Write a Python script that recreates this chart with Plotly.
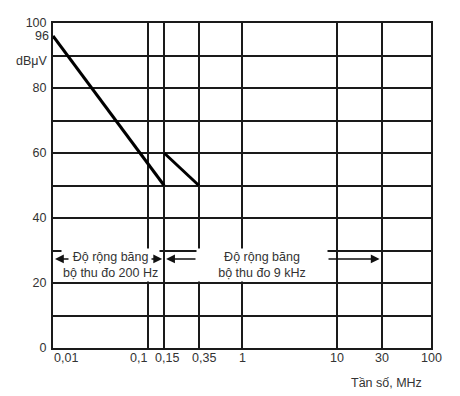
import numpy as np
import plotly.graph_objects as go

# ---- data ----
freq_seg1 = [0.01, 0.15]
level_seg1 = [96, 50]
freq_seg2 = [0.15, 0.35]
level_seg2 = [60, 50]

x_ticks = [0.01, 0.1, 0.15, 0.35, 1, 10, 30, 100]
x_tick_labels = ["0,01", "0,1", "0,15", "0,35", "1", "10", "30", "100"]
y_grid = [0, 10, 20, 30, 40, 50, 60, 70, 80, 90, 100]
y_tick_labels = ["0", "", "20", "", "40", "", "60", "", "80", "", "100"]
extra_y_tick = 96
y_unit = "dBμV"
x_title = "Tần số, MHz"
band_200_range = [0.01, 0.15]
band_9k_range = [0.15, 30]
band_200_text = "Độ rộng băng<br>bộ thu đo 200 Hz"
band_9k_text = "Độ rộng băng<br>bộ thu đo 9 kHz"

# ---- layout geometry (page has an 8px body margin) ----
OFF = 8
W, H = 460 - OFF, 396 - OFF
ML, MT = 53 - OFF, 23 - OFF
PW, PH = 378, 325
MR = W - ML - PW
MB = H - MT - PH
FONT = "Liberation Sans, Arial, sans-serif"
TXT = "#333333"
GRID = "#1a1a1a"


# page-pixel helpers
def px_to_logx(px):
    return -2 + 4 * (px - 53) / PW


def px_to_paper_x(px):
    return (px - 53) / PW


def px_to_paper_y(py):
    return (348 - py) / PH


fig = go.Figure()
fig.add_trace(go.Scatter(x=freq_seg1, y=level_seg1, mode="lines",
                         line=dict(color="black", width=3), showlegend=False, hoverinfo="skip"))
fig.add_trace(go.Scatter(x=freq_seg2, y=level_seg2, mode="lines",
                         line=dict(color="black", width=3), showlegend=False, hoverinfo="skip"))

annotations = []
label_style = {
    "0,01": ("left", -1),
    "0,1": ("right", 1),
    "0,15": ("center", 3),
    "0,35": ("center", 5),
}
for v, t in zip(x_ticks, x_tick_labels):
    anchor, shift = label_style.get(t, ("center", 0))
    annotations.append(dict(x=np.log10(v), xref="x", y=0, yref="paper", yshift=-10,
                            yanchor="middle", xanchor=anchor, xshift=shift, text=t,
                            showarrow=False, font=dict(family=FONT, size=12.5, color=TXT)))
annotations.append(dict(x=px_to_paper_x(424), xref="paper", y=0, yref="paper", yshift=-35,
                        xanchor="right", yanchor="middle", text=x_title, showarrow=False,
                        font=dict(family=FONT, size=12.5, color=TXT)))
annotations.append(dict(x=px_to_paper_x(51), xref="paper", y=extra_y_tick, yref="y",
                        xanchor="right", yanchor="middle", text=str(extra_y_tick), showarrow=False,
                        font=dict(family=FONT, size=12.5, color=TXT)))
annotations.append(dict(x=px_to_paper_x(49), xref="paper", y=px_to_paper_y(61), yref="paper",
                        xanchor="right", yanchor="middle", text=y_unit, showarrow=False,
                        font=dict(family=FONT, size=12.5, color=TXT)))
annotations.append(dict(x=px_to_paper_x(110), xref="paper", y=px_to_paper_y(264.5), yref="paper",
                        xanchor="center", yanchor="middle", text=band_200_text, showarrow=False,
                        bgcolor="white", borderpad=1,
                        font=dict(family=FONT, size=12.5, color=TXT)))
annotations.append(dict(x=px_to_paper_x(262), xref="paper", y=px_to_paper_y(264.5), yref="paper",
                        xanchor="center", yanchor="middle", text=band_9k_text, showarrow=False,
                        bgcolor="white", borderpad=1, width=128,
                        font=dict(family=FONT, size=12.5, color=TXT)))

arrow_y = 27.4


def arrow(head_val, tail_px):
    return dict(x=np.log10(head_val), xref="x", y=arrow_y, yref="y",
                ax=px_to_logx(tail_px), axref="x", ay=arrow_y, ayref="y",
                text="", showarrow=True, arrowhead=2, arrowsize=1.1, arrowwidth=1.6,
                arrowcolor="#111111", standoff=2)


annotations.append(arrow(band_200_range[0], 70))
annotations.append(arrow(band_200_range[1], 150))
annotations.append(arrow(band_9k_range[0], 197))
annotations.append(arrow(band_9k_range[1], 327))

fig.update_layout(
    width=W, height=H,
    margin=dict(l=ML, r=MR, t=MT, b=MB, pad=0, autoexpand=False),
    paper_bgcolor="white", plot_bgcolor="white",
    font=dict(family=FONT, size=12.5, color=TXT),
    xaxis=dict(type="log", range=[-2, 2], tickvals=x_ticks, showticklabels=False,
               showgrid=True, gridcolor=GRID, gridwidth=1.6, zeroline=False, automargin=False,
               showline=True, linecolor=GRID, linewidth=2, mirror=True, ticks=""),
    yaxis=dict(range=[0, 100], tickvals=y_grid, ticktext=y_tick_labels, automargin=False,
               showgrid=True, gridcolor=GRID, gridwidth=1.6, zeroline=False,
               showline=True, linecolor=GRID, linewidth=2, mirror=True, ticks="",
               ticklabelstandoff=2, tickfont=dict(family=FONT, size=12.5, color=TXT)),
    annotations=annotations,
    showlegend=False,
)

fig.write_html("out.html")
